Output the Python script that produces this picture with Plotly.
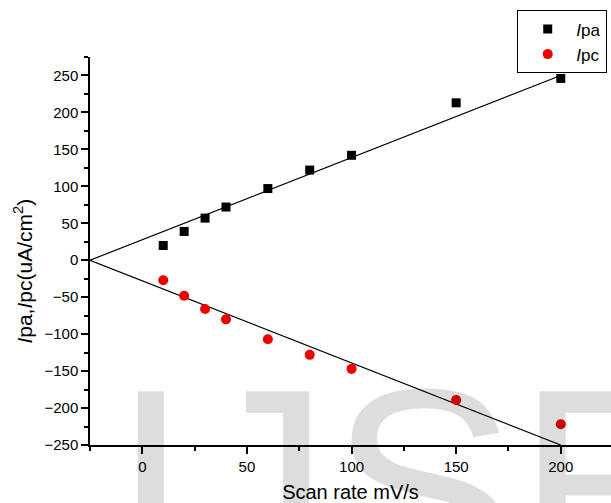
import plotly.graph_objects as go

scan_rate = [10, 20, 30, 40, 60, 80, 100, 150, 200]
ipa = [20, 39, 57, 72, 97, 122, 142, 213, 246]
ipc = [-27, -48, -66, -80, -107, -128, -147, -189, -222]

fit_x = [-25, 200]
fit_ipa = [0, 250]
fit_ipc = [0, -250]

x_ticks = [0, 50, 100, 150, 200]
y_ticks = [-250, -200, -150, -100, -50, 0, 50, 100, 150, 200, 250]

FONT = "Liberation Sans, Arial, sans-serif"

fig = go.Figure()
fig.add_trace(go.Scatter(x=fit_x, y=fit_ipa, mode="lines",
                         line=dict(color="black", width=1.2), showlegend=False,
                         cliponaxis=False))
fig.add_trace(go.Scatter(x=fit_x, y=fit_ipc, mode="lines",
                         line=dict(color="black", width=1.2), showlegend=False,
                         cliponaxis=False))
fig.add_trace(go.Scatter(x=scan_rate, y=ipa, mode="markers", name="<i>I</i>pa",
                         marker=dict(symbol="square", size=9, color="black"),
                         cliponaxis=False))
fig.add_trace(go.Scatter(x=scan_rate, y=ipc, mode="markers", name="<i>I</i>pc",
                         marker=dict(symbol="circle", size=10, color="#ee0000"),
                         cliponaxis=False))

axis_common = dict(
    showline=True, linecolor="black", linewidth=1.5,
    ticks="outside", ticklen=7, tickwidth=1.5, tickcolor="black",
    showgrid=False, zeroline=False,
    tickfont=dict(family=FONT, size=15, color="black"),
)

fig.update_layout(
    width=611, height=503,
    margin=dict(l=90, r=0, t=56.5, b=58, autoexpand=False),
    paper_bgcolor="white", plot_bgcolor="white",
    font=dict(family=FONT, color="black"),
    xaxis=dict(**axis_common, range=[-25, 224], tickvals=x_ticks,
               minor=dict(dtick=25, ticks="outside", ticklen=4, tickwidth=1.5, tickcolor="black"),
               title=dict(text="Scan rate mV/s", font=dict(family=FONT, size=20), standoff=12)),
    yaxis=dict(**axis_common, range=[-250, 275], tickvals=y_ticks,
               minor=dict(dtick=25, ticks="outside", ticklen=4, tickwidth=1.5, tickcolor="black")),
    legend=dict(x=0.82, y=1.120, xanchor="left", yanchor="top",
                bordercolor="black", borderwidth=1, bgcolor="white",
                font=dict(family=FONT, size=17), itemwidth=47, indentation=1),
    annotations=[
        dict(text="IJSER", xref="paper", yref="paper", x=0.038, y=0.30,
             xanchor="left", yanchor="top", showarrow=False,
             font=dict(family=FONT, size=280, color="rgba(0,0,0,0.135)")),
        dict(text="<i>I</i>pa,<i>I</i>pc(uA/cm<sup>2</sup>)", xref="paper", yref="paper",
             x=-0.129, y=0.449, xanchor="center", yanchor="middle", textangle=-90,
             showarrow=False, font=dict(family=FONT, size=21, color="black")),
    ],
)

fig.write_html("out.html", config={"displayModeBar": False},
               post_script="document.body.style.margin='0';document.body.style.overflow='hidden';")
